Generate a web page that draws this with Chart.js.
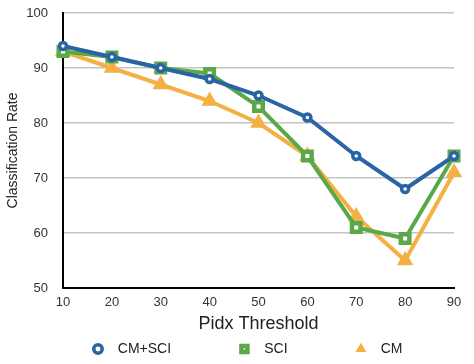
<!DOCTYPE html>
<html>
<head>
<meta charset="utf-8">
<script src="https://cdn.jsdelivr.net/npm/chart.js@4/dist/chart.umd.min.js"></script>
<style>
  html, body { margin: 0; padding: 0; background: #fff; }
  #wrap { width: 474px; height: 364px; }
</style>
</head>
<body>
<div id="wrap"><canvas id="chart" width="474" height="364"></canvas></div>
<script>
// thresholds on the x axis
var thresholds = ['10', '20', '30', '40', '50', '60', '70', '80', '90'];

// classification rates
var cmSci = [94, 92, 90, 88, 85, 81, 74, 68, 74];
var sci   = [93, 92, 90, 89, 83, 74, 61, 59, 74];
var cm    = [93, 90, 87, 84, 80, 74, 63, 55, 71];

var yTicks = [50, 60, 70, 80, 90, 100];

var blue = '#2a64a4';
var green = '#5aa848';
var orange = '#f5b044';
var fontFamily = 'Liberation Sans, Arial, sans-serif';

// spaces give the wide gaps between legend entries
var legendText = ['  CM+SCI' + ' '.repeat(15), '  SCI' + ' '.repeat(15), '  CM'];

// nudge the legend so its first marker sits under the 10/20 gap, like the original
var legendShift = {
    id: 'legendShift',
    afterLayout: function (chart) {
        var lg = chart.legend;
        if (!lg || !lg.lineWidths) return;
        var pad = lg.options.labels.padding;
        var cx = ((lg.left + pad) + (lg.right - lg.lineWidths[0])) / 2;
        var dx = 93 - cx;
        lg.left += dx;
        lg.right += dx;
        lg.top += 2;
        lg.bottom += 2;
    }
};

var ctx = document.getElementById('chart');
var chart = new Chart(ctx, {
    type: 'line',
    data: {
        labels: thresholds,
        datasets: [{
            label: 'CM+SCI',
            data: cmSci,
            borderColor: blue,
            backgroundColor: '#fff',
            borderWidth: 4,
            pointStyle: 'circle',
            pointRadius: 3.5,
            pointBorderWidth: 3.5,
            pointBorderColor: blue,
            pointBackgroundColor: '#fff',
            order: 1
        }, {
            label: 'SCI',
            data: sci,
            borderColor: green,
            backgroundColor: '#fff',
            borderWidth: 4,
            pointStyle: 'rect',
            pointRadius: 6,
            pointBorderWidth: 4.5,
            pointBorderColor: green,
            pointBackgroundColor: '#fff',
            order: 2
        }, {
            label: 'CM',
            data: cm,
            borderColor: orange,
            backgroundColor: orange,
            borderWidth: 4,
            pointStyle: 'triangle',
            pointRadius: 7.5,
            pointBorderWidth: 2,
            pointBorderColor: orange,
            pointBackgroundColor: orange,
            order: 3
        }]
    },
    options: {
        responsive: false,
        animation: false,
        layout: { padding: { left: 4, right: 20, top: 13, bottom: 0 } },
        plugins: {
            tooltip: { enabled: false },
            legend: {
                position: 'bottom',
                labels: {
                    usePointStyle: true,
                    boxWidth: 10,
                    boxHeight: 6,
                    padding: 10,
                    color: '#222',
                    font: { family: fontFamily, size: 14 },
                    generateLabels: function (chart) {
                        var items = Chart.defaults.plugins.legend.labels.generateLabels(chart);
                        items.forEach(function (item, i) { item.text = legendText[i]; });
                        return items;
                    }
                }
            }
        },
        scales: {
            x: {
                offset: false,
                afterFit: function (scale) { scale.height = 42; },
                grid: { display: false, drawTicks: false },
                border: { display: true, color: '#000', width: 2 },
                ticks: {
                    color: '#333',
                    maxRotation: 0,
                    padding: 7,
                    font: { family: fontFamily, size: 13 }
                },
                title: {
                    display: true,
                    text: 'Pidx Threshold',
                    color: '#222',
                    padding: { top: 0, bottom: -5 },
                    font: { family: fontFamily, size: 18 }
                }
            },
            y: {
                min: 50,
                max: 100,
                afterBuildTicks: function (scale) {
                    scale.ticks = yTicks.map(function (v) { return { value: v }; });
                },
                afterFit: function (scale) { scale.width = 59; },
                grid: {
                    color: '#c4c4c4',
                    lineWidth: 1.5,
                    drawTicks: true,
                    tickLength: 15,
                    tickColor: 'rgba(0,0,0,0)'
                },
                border: { display: true, color: '#000', width: 2 },
                ticks: {
                    color: '#333',
                    padding: 0,
                    font: { family: fontFamily, size: 13 }
                },
                title: {
                    display: true,
                    text: 'Classification Rate',
                    color: '#222',
                    padding: { top: 1, bottom: 0 },
                    font: { family: fontFamily, size: 14 }
                }
            }
        }
    },
    plugins: [legendShift]
});
</script>
</body>
</html>
